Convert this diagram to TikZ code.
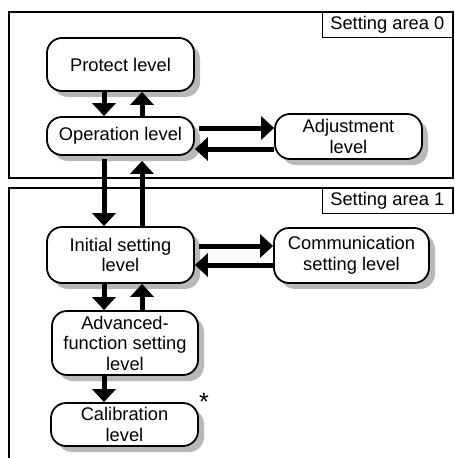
\documentclass[tikz,border=0pt]{standalone}
\usepackage{fontspec}
\setmainfont{Liberation Sans}
\usetikzlibrary{arrows.meta,shadows}
\begin{document}
\begin{tikzpicture}[x=1pt,y=-1pt,
  txt/.style={font=\fontsize{18.3}{20.5}\selectfont},
  lvl/.style={txt, draw, line width=1.8pt, rounded corners=15pt, fill=white,
    align=center, inner sep=0pt,
    drop shadow={shadow xshift=6pt, shadow yshift=-6pt, fill=black!28, opacity=1}},
  frame/.style={line width=1.4pt},
  lab/.style={txt, draw, line width=1.4pt, minimum width=130pt, minimum height=25pt,
    inner sep=0pt, anchor=north east},
  arr/.style={line width=5pt, -{Triangle[length=13pt,width=23pt]}}
]
\useasboundingbox (0,0) rectangle (455,458);
% frames
\draw[frame] (9,12) rectangle (453,178);
\draw[frame] (453,214) -- (453,188) -- (9,188) -- (9,458);
\node[lab] (lab0) at (453,12) {Setting area 0};
\node[lab] (lab1) at (453,188) {Setting area 1};
% levels
\node[lvl, minimum width=147pt, minimum height=53pt] (prot) at (120.5,64.5) {Protect level};
\node[lvl, minimum width=147pt, minimum height=38pt] (oper) at (120.5,136) {Operation level};
\node[lvl, minimum width=147pt, minimum height=45pt] (adj) at (348.5,136.5) {Adjustment\\level};
\node[lvl, minimum width=147pt, minimum height=56pt] (init) at (120.5,255) {Initial setting\\level};
\node[lvl, minimum width=155pt, minimum height=55pt] (comm) at (351.5,255.5) {Communication\\setting level};
\node[lvl, minimum width=146pt, minimum height=64pt] (adv) at (125,343) {Advanced-\\function setting\\level};
\node[lvl, minimum width=147pt, minimum height=43pt] (cal) at (124.5,424.5) {Calibration\\level};
\node[font=\fontsize{25}{25}\selectfont, inner sep=0pt, anchor=north] (ast) at (204,393) {*};
% guide coordinates
\coordinate (xd) at (104,0);
\coordinate (xu) at (142,0);
\coordinate (yA) at (0,128);
\coordinate (yB) at (0,149);
\coordinate (yC) at (0,246);
\coordinate (yD) at (0,265);
% arrows
\draw[arr] (prot.south -| xd) -- (oper.north -| xd);
\draw[arr] (oper.north -| xu) -- (prot.south -| xu);
\draw[arr, shorten <=3pt] (oper.south -| xd) -- (init.north -| xd);
\draw[arr, shorten >=5pt] (init.north -| xu) -- (oper.south -| xu);
\draw[arr, shorten <=4pt] (oper.east |- yA) -- (adj.west |- yA);
\draw[arr] (adj.west |- yB) -- (oper.east |- yB);
\draw[arr, shorten <=4pt] (init.east |- yC) -- (comm.west |- yC);
\draw[arr] (comm.west |- yD) -- (init.east |- yD);
\draw[arr] (init.south -| xd) -- (adv.north -| xd);
\draw[arr] (adv.north -| xu) -- (init.south -| xu);
\draw[arr] (adv.south -| xd) -- (cal.north -| xd);
\end{tikzpicture}
\end{document}
